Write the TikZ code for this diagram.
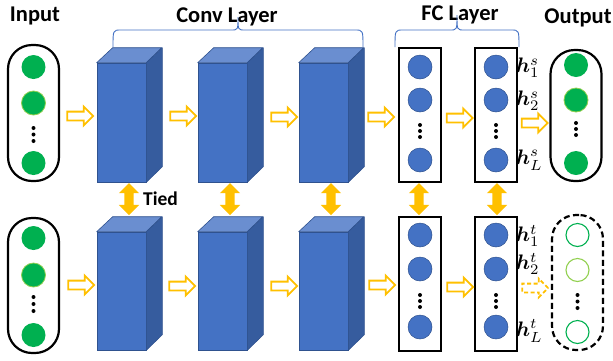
\documentclass[tikz,border=0pt]{standalone}
\usepackage{fontspec}
\setmainfont{Carlito}
\usepackage{amsmath,bm}
\usetikzlibrary{shapes.arrows,calc}

\definecolor{cblue}{HTML}{4472C4}
\definecolor{ctop}{HTML}{6A8ED0}
\definecolor{cside}{HTML}{365C9E}
\definecolor{cedge}{HTML}{2F528F}
\definecolor{cgreen}{HTML}{00B050}
\definecolor{clime}{HTML}{92D050}
\definecolor{cyel}{HTML}{FFC000}
\definecolor{cbrace}{HTML}{4472C4}

\tikzset{
  title/.style={font=\fontsize{22.5}{26}\selectfont\bfseries, anchor=base, inner sep=0pt},
  pill/.style={draw=black, line width=2.2pt, rounded corners=24pt, minimum width=51pt, inner sep=0pt, fill=white},
  fcbox/.style={draw=black, line width=2.4pt, minimum width=42pt, minimum height=134pt, inner sep=0pt},
  gball/.style={circle, fill=cgreen, minimum size=24pt, inner sep=0pt},
  oball/.style={circle, draw=cgreen, line width=1.1pt, minimum size=23pt, inner sep=0pt},
  bball/.style={circle, fill=cblue, draw=cedge, line width=0.5pt, minimum size=24pt, inner sep=0pt},
  front/.style={rectangle, fill=cblue, draw=cedge, line width=0.6pt, minimum width=49pt, inner sep=0pt},
  flow/.style={single arrow, draw=cyel, fill=white, line width=1.8pt, inner sep=0pt,
    text height=3.5pt, text depth=3.5pt, single arrow head extend=5pt, minimum height=26pt},
  tied/.style={double arrow, fill=cyel, inner sep=0pt, rotate=90,
    text height=4.5pt, text depth=4.5pt, double arrow head extend=5.5pt, minimum height=32pt},
  hlab/.style={anchor=west, inner sep=0pt, font=\normalsize},
  brace/.style={draw=cbrace, line width=0.9pt},
}

% large bold math label
\newcommand\hvec[2]{\scalebox{2.1}{$\bm{h}_{#1}^{#2}$}}

% cuboid: name, left x of front face, top y, bottom y, centre y, height
\newcommand\cuboid[6]{%
  \node[front, minimum height=#6pt] (#1) at (#2+24.5,#5) {};
  \filldraw[fill=ctop, draw=cedge, line width=0.6pt, line join=round]
    (#1.north west) -- ++(16,-15) -- ++(49,0) -- (#1.north east) -- cycle;
  \filldraw[fill=cside, draw=cedge, line width=0.6pt, line join=round]
    (#1.north east) -- ++(16,-15) -- ++(0,#6) -- (#1.south east) -- cycle;
}
% column of three small dots: x, first y, spacing
\newcommand\dotcol[3]{%
  \foreach \k in {0,1,2} \fill (#1,#2+\k*#3) circle (2pt);
}

\begin{document}
\begin{tikzpicture}[x=1pt, y=-1pt]
\useasboundingbox (0,0) rectangle (613,360);

% headings
\node[title] (tin) at (35,21) {Input};
\node[title] (tconv) at (227,22) {Conv Layer};
\node[title] (tfc) at (460,20) {FC Layer};
\node[title] (tout) at (578,23) {Output};

% braces
\draw[brace] (113,47) .. controls (113,30) .. (121,30) -- (231,30)
  .. controls (238,30) .. (238,17) .. controls (238,30) .. (245,30) -- (355,30)
  .. controls (363,30) .. (363,47);
\draw[brace] (395,47) .. controls (395,30) .. (403,30) -- (450,30)
  .. controls (457,30) .. (457,15) .. controls (457,30) .. (464,30) -- (511,30)
  .. controls (519,30) .. (519,47);

% ---- upper branch ----
\node[pill, minimum height=136pt] (inA) at (33.5,113) {};
\node[gball] (inA1) at (33.5,67) {};
\node[gball, draw=clime, line width=0.8pt] (inA2) at (33.5,103) {};
\node[gball] (inA3) at (33.5,163) {};
\dotcol{33.5}{128}{6.5}

\cuboid{cA1}{97}{63}{182}{122.5}{119}
\cuboid{cA2}{198}{63}{182}{122.5}{119}
\cuboid{cA3}{299}{63}{182}{122.5}{119}

\node[fcbox] (fA1) at (420,115) {};
\node[fcbox] (fA2) at (496,115) {};
\foreach \f in {fA1,fA2}{
  \node[bball] (\f a) at ($(\f.center)+(0,-48)$) {};
  \node[bball] (\f b) at ($(\f.center)+(0,-15)$) {};
  \node[bball] (\f c) at ($(\f.center)+(0,45)$) {};
}
\dotcol{420}{125}{6}
\dotcol{496}{125}{6}

\node[pill, minimum height=131pt] (outA) at (576,115.5) {};
\node[gball] (outA1) at (576,65) {};
\node[gball, draw=clime, line width=0.8pt] (outA2) at (576,100) {};
\node[gball] (outA3) at (576,163) {};
\dotcol{576}{123}{6}

\node[hlab] (hs1) at (516,68) {\hvec{1}{s}};
\node[hlab] (hs2) at (516,101) {\hvec{2}{s}};
\node[hlab] (hsL) at (516,160) {\hvec{L}{s}};

% flow arrows, upper branch
\node[flow] (aA0) at (78,116) {};
\node[flow] (aA1) at (181,116) {};
\node[flow] (aA2) at (282,117) {};
\node[flow] (aA3) at (379,117) {};
\node[flow] (aA4) at (457.5,118) {};
\node[flow] (aA5) at (532.5,123) {};

% ---- lower branch ----
\node[pill, minimum height=135pt] (inB) at (33.5,285.5) {};
\node[gball] (inB1) at (33.5,238) {};
\node[gball, draw=clime, line width=0.8pt] (inB2) at (33.5,275) {};
\node[gball] (inB3) at (33.5,335) {};
\dotcol{33.5}{297}{7}

\cuboid{cB1}{97}{232}{350}{291}{118}
\cuboid{cB2}{198}{232}{350}{291}{118}
\cuboid{cB3}{299}{232}{350}{291}{118}

\node[fcbox] (fB1) at (420,284) {};
\node[fcbox] (fB2) at (496,284) {};
\foreach \f in {fB1,fB2}{
  \node[bball] (\f a) at ($(\f.center)+(0,-49)$) {};
  \node[bball] (\f b) at ($(\f.center)+(0,-15)$) {};
  \node[bball] (\f c) at ($(\f.center)+(0,43)$) {};
}
\dotcol{420}{295}{6}
\dotcol{496}{295}{6}

\node[pill, dashed, dash pattern=on 6pt off 3.5pt, minimum height=135pt] (outB) at (577.5,282.5) {};
\node[oball] (outB1) at (577.5,235) {};
\node[oball, draw=clime] (outB2) at (577.5,270) {};
\node[oball] (outB3) at (577.5,332) {};
\dotcol{577.5}{295}{6.5}

\node[hlab] (ht1) at (516,236) {\hvec{1}{t}};
\node[hlab] (ht2) at (516,264) {\hvec{2}{t}};
\node[hlab] (htL) at (516,331) {\hvec{L}{t}};

% flow arrows, lower branch
\node[flow] (aB0) at (79,285) {};
\node[flow] (aB1) at (180,286) {};
\node[flow] (aB2) at (282,286) {};
\node[flow] (aB3) at (380,285) {};
\node[flow] (aB4) at (458,287) {};
\node[flow, dashed, dash pattern=on 4pt off 2.5pt] (aB5) at (533,288) {};

% weight tying between branches
\node[tied] (t1) at (129,199) {};
\node[tied] (t2) at (230,199) {};
\node[tied] (t3) at (331,199) {};
\node[tied] (t4) at (419,199) {};
\node[tied] (t5) at (497,199) {};
\node[font=\fontsize{19.5}{23}\selectfont\bfseries, anchor=west, inner sep=0pt] (tiedlab) at (143,199) {Tied};
\end{tikzpicture}
\end{document}
